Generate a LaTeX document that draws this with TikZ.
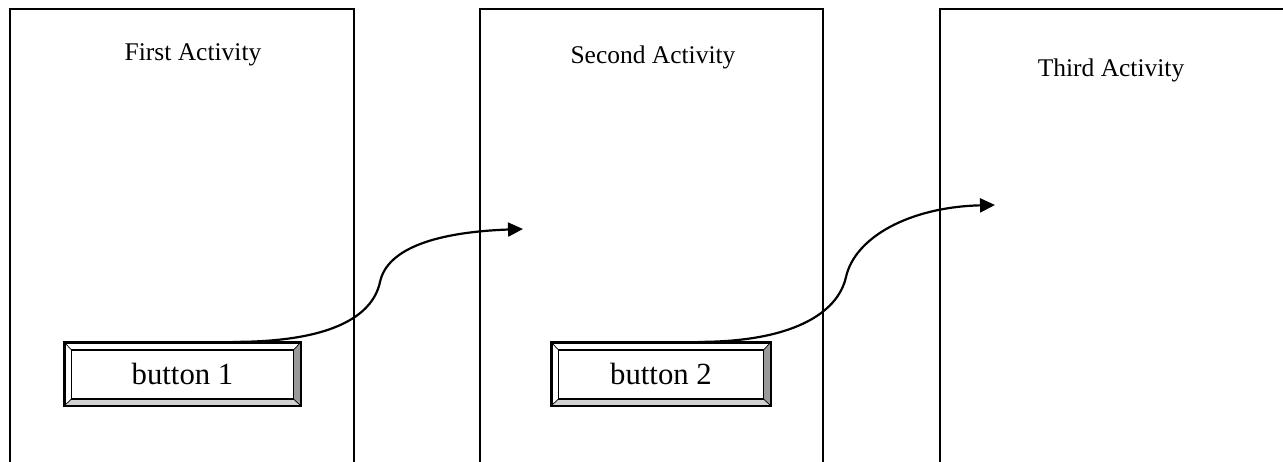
\documentclass[tikz,border=0pt]{standalone}
\usepackage{fontspec}
\setmainfont{Liberation Serif}
\usepackage{tikz}
\usetikzlibrary{arrows.meta,positioning,calc}
\definecolor{bevdark}{gray}{0.6}
\definecolor{bevlight}{gray}{0.82}
\tikzset{
  actframe/.style={line width=1.25pt},
  acttitle/.style={font=\fontsize{14.5}{16}\selectfont},
  btn/.style={draw, line width=1.25pt, minimum height=1.24cm, inner sep=0pt,
              font=\fontsize{17.5}{20}\selectfont},
  flow/.style={line width=1.25pt, -{Triangle[length=0.3cm,width=0.28cm]}}
}
% bevel of a button node: #1 = node name
\newcommand{\bevel}[1]{%
  \coordinate (#1-isw) at ($(#1.south west)+(0.15,0.14)$);
  \coordinate (#1-ise) at ($(#1.south east)+(-0.15,0.14)$);
  \coordinate (#1-ine) at ($(#1.north east)+(-0.15,-0.16)$);
  \coordinate (#1-inw) at ($(#1.north west)+(0.15,-0.16)$);
  \fill[bevlight] (#1.south west) -- (#1.south east) -- (#1-ise) -- (#1-isw) -- cycle;
  \fill[bevdark] (#1.south east) -- (#1.north east) -- (#1-ine) -- (#1-ise) -- cycle;
  \draw[line width=0.4pt] (#1.south west) -- (#1-isw) (#1.south east) -- (#1-ise)
        (#1.north east) -- (#1-ine) (#1.north west) -- (#1-inw);
  \draw[line width=0.7pt] (#1-isw) rectangle (#1-ine);
  \draw[line width=1.25pt] (#1.south west) rectangle (#1.north east);
}
\begin{document}
\begin{tikzpicture}
\useasboundingbox (0,0) rectangle (25.66,9.24);
% activity frames (open at the bottom, third one runs off the page)
\draw[actframe] (0.2,-0.5) rectangle (7.08,9.06);
\draw[actframe] (9.6,-0.5) rectangle (16.46,9.06);
\draw[actframe] (18.8,-0.5) rectangle (26.5,9.06);
\node[acttitle] (ttlA) at (3.86,8.14) {First Activity};
\node[acttitle] (ttlB) at (13.06,8.1) {Second Activity};
\node[acttitle] (ttlC) at (22.22,7.84) {Third Activity};
% buttons
\node[btn, minimum width=4.7cm] (btnA) at (3.65,1.76) {button 1};
\node[btn, minimum width=4.36cm] (btnB) at (13.22,1.76) {button 2};
\bevel{btnA}
\bevel{btnB}
% targets
\coordinate (tgtB) at (10.46,4.66);
\coordinate (tgtC) at (19.9,5.14);
\draw[flow] ([xshift=1.01cm]btnA.north) .. controls (6.6,2.4) and (7.45,2.9) .. (7.6,3.6)
  .. controls (7.75,4.3) and (8.8,4.6) .. (tgtB);
\draw[flow] ([xshift=0.74cm]btnB.north) .. controls (15.8,2.4) and (16.75,2.95) .. (16.92,3.7)
  .. controls (17.1,4.5) and (18.2,5.1) .. (tgtC);
\end{tikzpicture}
\end{document}
